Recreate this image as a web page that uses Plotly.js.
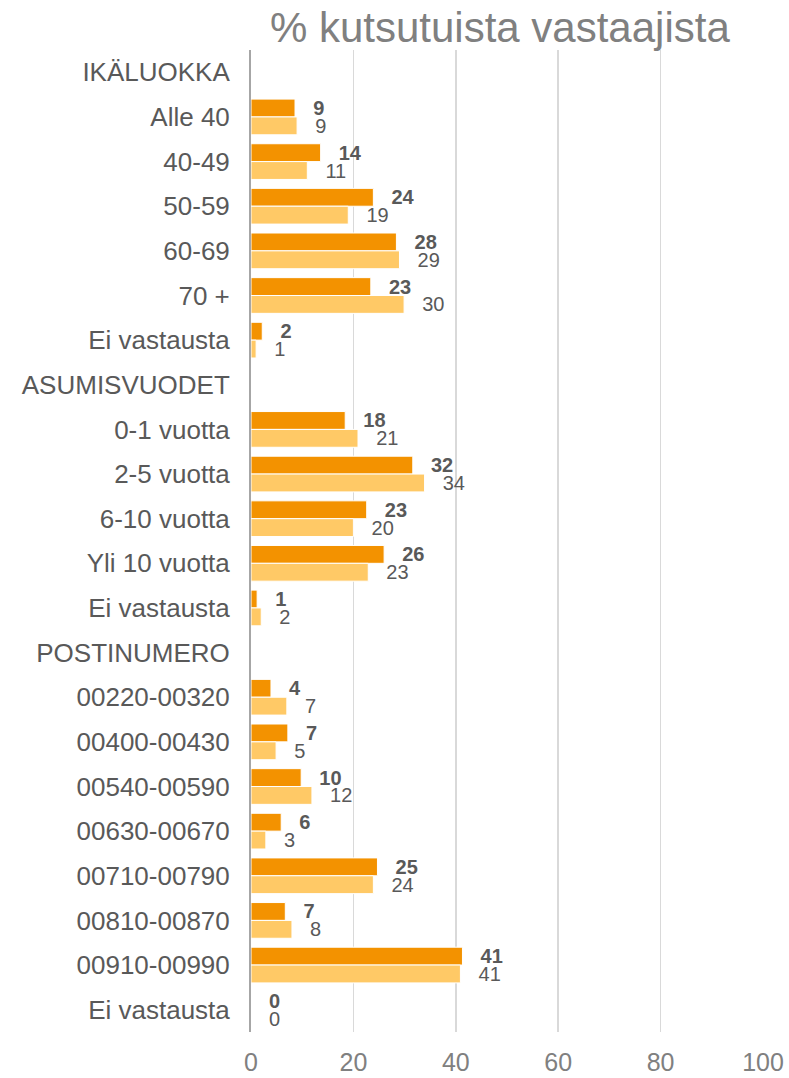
<!DOCTYPE html>
<html>
<head>
<meta charset="utf-8">
<script src="https://cdn.plot.ly/plotly-3.0.1.min.js"></script>
<style>html,body{margin:0;padding:0;background:#fff;}#chart{width:789px;height:1078px;}</style>
</head>
<body>
<div id="chart"></div>
<script>
var categories = ["IKÄLUOKKA", "Alle 40", "40-49", "50-59", "60-69", "70 +", "Ei vastausta",
  "ASUMISVUODET", "0-1 vuotta", "2-5 vuotta", "6-10 vuotta", "Yli 10 vuotta", "Ei vastausta",
  "POSTINUMERO", "00220-00320", "00400-00430", "00540-00590", "00630-00670", "00710-00790",
  "00810-00870", "00910-00990", "Ei vastausta"];
var darkVals  = [null, 8.6, 13.6, 23.9, 28.4, 23.4, 2.2, null, 18.4, 31.6, 22.6, 26.0, 1.2,
  null, 3.9, 7.2, 9.8, 5.9, 24.7, 6.7, 41.3, 0];
var lightVals = [null, 9.0, 11.0, 19.0, 29.0, 29.9, 1.0, null, 20.9, 33.9, 20.0, 22.9, 2.0,
  null, 7.0, 4.9, 11.9, 2.9, 23.9, 8.0, 40.9, 0];
var xTicks = [0, 20, 40, 60, 80, 100];

var pos = categories.map(function(c, i){ return i; });
var FONT = 'Arial, "Liberation Sans", sans-serif';

var common = {
  type: 'bar', orientation: 'h', y: pos,
  textposition: 'outside', constraintext: 'none', cliponaxis: false,
  texttemplate: '\u00a0\u00a0\u2009%{x:.0f}',
  hoverinfo: 'x'
};
var t1 = Object.assign({}, common, {
  x: darkVals, name: 'dark',
  marker: {color: '#F39200', line: {color: '#ffffff', width: 1}},
  textfont: {family: FONT, size: 20, color: '#595959', weight: 'bold'}
});
var t2 = Object.assign({}, common, {
  x: lightVals, name: 'light',
  marker: {color: '#FFC966', line: {color: '#ffffff', width: 1}},
  textfont: {family: FONT, size: 20, color: '#595959'}
});

var layout = {
  width: 789, height: 1078,
  margin: {l: 251, r: 26, t: 50, b: 46},
  paper_bgcolor: '#ffffff', plot_bgcolor: '#ffffff',
  showlegend: false,
  barmode: 'group', bargap: 0.2, bargroupgap: 0,
  font: {family: FONT},
  title: {
    text: '% kutsutuista vastaajista',
    font: {family: FONT, size: 42, color: '#808080'},
    xref: 'paper', x: 0.486, xanchor: 'center',
    yref: 'container', y: 1 - 27/1078, yanchor: 'middle'
  },
  xaxis: {
    range: [0, 100], tickvals: xTicks, ticktext: xTicks.map(String),
    showgrid: true, gridcolor: '#D9D9D9', gridwidth: 1.5,
    zeroline: false, showline: false, ticks: '',
    ticklabelstandoff: 13,
    tickfont: {family: FONT, size: 25, color: '#808080'},
    fixedrange: true
  },
  yaxis: {
    range: [categories.length - 0.5, -0.5],
    tickvals: pos, ticktext: categories,
    showgrid: false, zeroline: false,
    showline: true, linecolor: '#A6A6A6', linewidth: 2,
    ticks: '', ticklabelstandoff: 14,
    tickfont: {family: FONT, size: 26, color: '#595959'},
    fixedrange: true
  }
};

Plotly.newPlot('chart', [t1, t2], layout, {displayModeBar: false, staticPlot: true});
</script>
</body>
</html>
